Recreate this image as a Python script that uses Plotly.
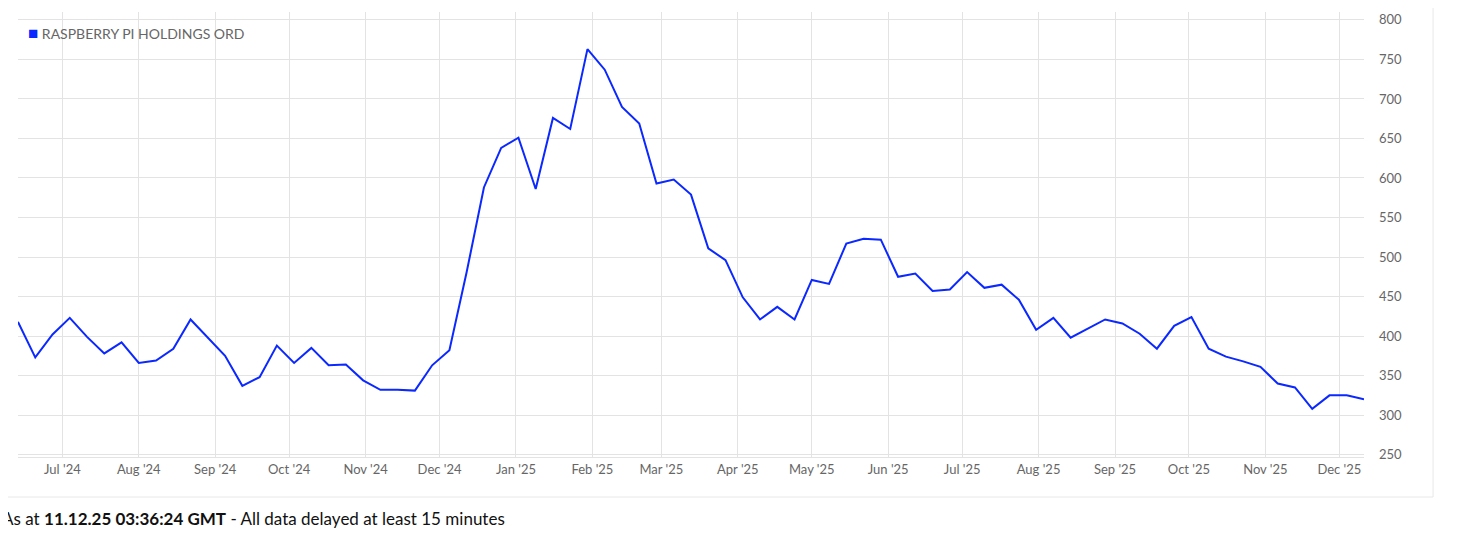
import plotly.graph_objects as go
import pandas as pd

dates = pd.date_range("2024-06-13", periods=79, freq="7D")
prices = [418,373,402,423,399,378,392,366,369,384,421,398,375,337,348,388,366,385,363,364,
          344,332,332,331,363,382,481,588,638,651,586,676,662,763,737,690,669,593,598,579,
          511,496,449,421,437,421,471,466,517,523,522,475,479,457,459,481,461,465,446,408,
          423,398,409,421,416,403,384,413,424,384,374,368,361,340,335,308,325,325,320]
tick_vals = pd.date_range("2024-07-01", "2025-12-01", freq="MS")
tick_text = [d.strftime("%b '%y") for d in tick_vals]
series_name = "RASPBERRY PI HOLDINGS ORD"

fig = go.Figure(go.Scatter(x=dates, y=prices, mode="lines", name=series_name,
                           line=dict(color="#0a28ff", width=2), showlegend=False))
fig.update_layout(
    width=1473, height=550, paper_bgcolor="white", plot_bgcolor="white",
    margin=dict(l=10, r=117, t=4, b=101),
    font=dict(family="Lato, Open Sans, sans-serif", size=13, color="#666"),
    xaxis=dict(range=[dates[0], dates[-1]], tickvals=tick_vals, ticktext=tick_text,
               showgrid=True, gridcolor="#e3e3e3", zeroline=False, showline=True, linecolor="#e3e3e3"),
    yaxis=dict(side="right", range=[247, 810], tickvals=list(range(250, 801, 50)),
               showgrid=True, gridcolor="#e3e3e3", zeroline=False, ticks="", ticklabelstandoff=14),
    shapes=[dict(type="rect", xref="paper", yref="paper", x0=-0.0104, x1=1.0513, y0=-0.0899, y1=1.027,
                 line=dict(color="#e8e8e8", width=1), layer="below")],
    annotations=[
        dict(xref="paper", yref="paper", x=0.006, y=0.953, xanchor="left", yanchor="middle",
             showarrow=False, font=dict(size=14, color="#666"),
             text="<span style='color:#0a28ff;font-size:17px'>■</span> " + series_name),
        dict(xref="paper", yref="paper", x=-0.0134, y=-0.139, xanchor="left", yanchor="middle",
             showarrow=False, font=dict(size=17, color="#111"),
             text="As at <b>11.12.25 03:36:24 GMT</b> - All data delayed at least 15 minutes")],
)
fig.write_html("out.html")
